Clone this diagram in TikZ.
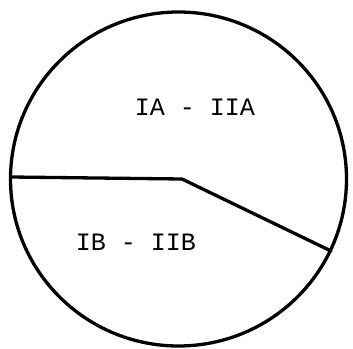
\documentclass[tikz,border=0pt]{standalone}
\usepackage{fontspec}
\setmonofont{Liberation Mono}
\begin{document}
\begin{tikzpicture}[x=1pt,y=-1pt,
  edge/.style={line width=3.3pt,line join=round,line cap=round},
  lbl/.style={font=\ttfamily\fontsize{25}{25}\selectfont,inner sep=0pt}]
\useasboundingbox (0,0) rectangle (353,348);
\draw[edge] (178.5,179) ellipse [x radius=168, y radius=167];
\coordinate (L) at (11,177);
\coordinate (C) at (182,179);
\coordinate (R) at (331,251);
\draw[edge] (L) -- (C) -- (R);
\node[lbl] (a) at (195,107) {IA - IIA};
\node[lbl] (b) at (136,242) {IB - IIB};
\end{tikzpicture}
\end{document}
